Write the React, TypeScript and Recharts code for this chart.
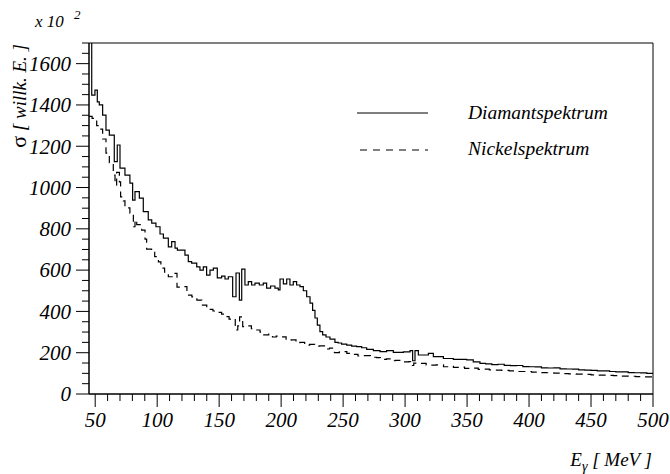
import React from 'react';
import { LineChart, Line, XAxis, YAxis, ReferenceArea } from 'recharts';

const X_MIN = 45;
const X_MAX = 500;
const Y_MAX = 1700;

// Diamantspektrum: lower bin edges (MeV) and contents (x 10^2)
const diamantEdges = [
  45, 47.2, 49.8, 51.7, 53.3, 56, 58.7, 61.4, 65.4, 67.8, 70, 74, 78, 80.2, 82.1, 85.6, 88.8, 92.8, 95.6, 99,
  102.3, 105, 109, 111.7, 114.4, 116.3, 122.4, 125.1, 127.8, 131.9, 134.5, 137.2, 139.9, 142.6, 145.3, 148.5, 152, 154.7, 157.4, 160.9,
  163.6, 166.3, 168.2, 170.8, 173.5, 176.2, 178.9, 182.4, 185.6, 188.3, 191.5, 195, 197.7, 199.1, 201.8, 204.5, 207.1, 209.8, 212.5, 215.2,
  217.9, 220.6, 223.3, 225.4, 227.3, 229.2, 231.3, 233.5, 236.2, 239.4, 243.4, 246, 248.8, 252.9, 256.9, 260.9, 265, 269, 274.4, 279.8,
  285.1, 290.5, 298.6, 304, 306.1, 308, 310.7, 318.8, 322.8, 330.9, 338.9, 349.7, 355, 360.4, 365, 370, 375, 380, 385, 390,
  395, 400, 405, 410, 415, 420, 425, 430, 435, 440, 445, 450, 455, 460, 465, 470, 475, 480, 485, 490, 495,
];
const diamantValues = [
  1760, 1448, 1472, 1415, 1400, 1351, 1278, 1254, 1125, 1206, 1094, 1060, 1021, 939, 980, 949, 883, 843, 828, 810,
  775, 755, 713, 738, 707, 697, 673, 641, 634, 616, 600, 616, 576, 600, 610, 562, 571, 557, 568, 471,
  586, 455, 605, 528, 544, 528, 537, 528, 537, 513, 523, 513, 504, 557, 533, 557, 528, 544, 528, 520,
  500, 471, 440, 405, 368, 334, 302, 286, 276, 266, 250, 247, 242, 237, 232, 229, 224, 216, 210, 205,
  210, 202, 204, 210, 161, 210, 189, 197, 181, 172, 168, 165, 156, 148, 146, 142, 144, 139, 137, 138,
  133, 132, 131, 127, 126, 127, 122, 121, 120, 117, 116, 114, 112, 112, 109, 107, 107, 104, 103, 102, 100,
];

// Nickelspektrum: lower bin edges (MeV) and contents (x 10^2)
const nickelEdges = [
  45, 47.5, 51.2, 53.3, 56, 58.7, 61.4, 64.6, 66, 67.3, 69.5, 70.5, 72.7, 74, 78, 80.8, 82.1, 83.5, 87.5, 90.2,
  91.5, 95.5, 98, 101, 103, 106, 109, 113, 116, 120, 124, 128, 132, 136, 140, 145, 149, 152, 155, 158,
  160, 163, 165, 166.5, 169, 172, 176, 179, 183, 186, 190, 193, 196, 199, 204, 208, 212, 215, 219, 223,
  227, 231, 235, 239, 243, 247, 253, 257, 262, 266, 272, 277, 280, 285, 289, 292, 297, 303, 304.5, 307,
  310, 317, 325, 331, 336, 339, 344, 348, 355, 359, 364, 368, 372, 378, 384, 390, 396, 402, 408, 414,
  420, 426, 432, 438, 444, 450, 456, 462, 468, 474, 480, 486, 492,
];
const nickelValues = [
  1345, 1335, 1300, 1283, 1235, 1167, 1120, 1060, 1012, 1073, 1027, 955, 935, 901, 876, 810, 843, 820, 794, 750,
  702, 689, 665, 640, 610, 590, 568, 584, 518, 520, 479, 470, 455, 430, 410, 402, 395, 387, 375, 363,
  365, 310, 330, 374, 326, 330, 316, 310, 300, 286, 290, 276, 280, 277, 261, 262, 248, 250, 237, 240,
  232, 233, 218, 222, 200, 205, 197, 192, 184, 186, 178, 176, 168, 170, 161, 163, 156, 157, 138, 150,
  148, 140, 141, 132, 134, 129, 130, 124, 125, 119, 120, 117, 116, 114, 112, 109, 109, 106, 104, 103,
  101, 99, 97, 96, 95, 93, 91, 90, 89, 87, 86, 84, 83,
];

const xMajorTicks = [50, 100, 150, 200, 250, 300, 350, 400, 450, 500];
const yMajorTicks = [0, 200, 400, 600, 800, 1000, 1200, 1400, 1600];
const xMinorStep = 10;
const yMinorStep = 50;

const xTicks: number[] = [];
for (let v = 50; v <= X_MAX; v += xMinorStep) xTicks.push(v);
const yTicks: number[] = [];
for (let v = 0; v <= Y_MAX; v += yMinorStep) yTicks.push(v);

const seriesNames = ['Diamantspektrum', 'Nickelspektrum'];

function toSteps(edges: number[], values: number[]) {
  const pts = edges.map((e, i) => ({ e, v: values[i] }));
  pts.push({ e: X_MAX, v: values[values.length - 1] });
  return pts;
}

const diamantData = toSteps(diamantEdges, diamantValues);
const nickelData = toSteps(nickelEdges, nickelValues);

const FONT = '"Liberation Serif", "Times New Roman", serif';

const XTick = (props: any) => {
  const { x, y, payload } = props;
  const v = payload.value;
  const major = xMajorTicks.includes(v);
  return (
    <g>
      <line x1={x} x2={x} y1={y} y2={y + (major ? 13 : 7)} stroke="#000" strokeWidth={1} />
      {major && (
        <text x={x} y={y + 33} textAnchor="middle" fontFamily={FONT} fontStyle="italic" fontSize={21} fill="#000">
          {v}
        </text>
      )}
    </g>
  );
};

const YTick = (props: any) => {
  const { x, y, payload } = props;
  const v = payload.value;
  const major = yMajorTicks.includes(v);
  return (
    <g>
      <line x1={x - (major ? 13 : 7)} x2={x} y1={y} y2={y} stroke="#000" strokeWidth={1} />
      {major && (
        <text x={x - 18} y={y} dy="0.35em" textAnchor="end" fontFamily={FONT} fontStyle="italic" fontSize={21} fill="#000">
          {v}
        </text>
      )}
    </g>
  );
};

export default function App() {
  return (
    <div style={{ position: 'absolute', left: 0, top: 0, width: 670, height: 474, background: '#fff' }}>
      <LineChart width={670} height={474} margin={{ top: 43, right: 17, bottom: 0, left: 0 }}>
        <XAxis
          type="number"
          dataKey="e"
          domain={[X_MIN, X_MAX]}
          allowDataOverflow
          ticks={xTicks}
          interval={0}
          height={80}
          tickSize={0}
          tickMargin={0}
          tickLine={false}
          axisLine={{ stroke: '#000', strokeWidth: 1 }}
          tick={<XTick />}
        />
        <YAxis
          type="number"
          domain={[0, Y_MAX]}
          allowDataOverflow
          ticks={yTicks}
          interval={0}
          width={89}
          tickSize={0}
          tickMargin={0}
          tickLine={false}
          axisLine={{ stroke: '#000', strokeWidth: 1 }}
          tick={<YTick />}
        />
        <ReferenceArea x1={X_MIN} x2={X_MAX} y1={0} y2={Y_MAX} fill="none" fillOpacity={0} stroke="#000" strokeWidth={1} />
        <Line
          data={diamantData}
          dataKey="v"
          name={seriesNames[0]}
          type="stepAfter"
          stroke="#000"
          strokeWidth={1.2}
          dot={false}
          activeDot={false}
          isAnimationActive={false}
        />
        <Line
          data={nickelData}
          dataKey="v"
          name={seriesNames[1]}
          type="stepAfter"
          stroke="#000"
          strokeWidth={1.2}
          strokeDasharray="7 5"
          dot={false}
          activeDot={false}
          isAnimationActive={false}
        />
      </LineChart>
      <svg width={670} height={474} style={{ position: 'absolute', left: 0, top: 0, pointerEvents: 'none' }}>
        <text x={35} y={27} fontFamily={FONT} fontStyle="italic" fontSize={17} fill="#000">x 10</text>
        <text x={74} y={19} fontFamily={FONT} fontStyle="italic" fontSize={13} fill="#000">2</text>
        <text transform="translate(26,44) rotate(-90)" textAnchor="end" fontFamily={FONT} fontSize={19} fill="#000">
          <tspan fontSize={22}>σ</tspan>
          <tspan fontStyle="italic"> [ willk. E. ]</tspan>
        </text>
        <text x={652} y={466} textAnchor="end" fontFamily={FONT} fontStyle="italic" fontSize={19} fill="#000">
          E<tspan fontSize={14} dy={5}>γ</tspan><tspan dy={-5}> [ MeV ]</tspan>
        </text>
        <line x1={357} x2={428} y1={113} y2={113} stroke="#000" strokeWidth={1.2} />
        <text x={468} y={119} fontFamily={FONT} fontStyle="italic" fontSize={19.5} fill="#000">{seriesNames[0]}</text>
        <line x1={360} x2={428} y1={150} y2={150} stroke="#000" strokeWidth={1.2} strokeDasharray="7 6" />
        <text x={468} y={155} fontFamily={FONT} fontStyle="italic" fontSize={19.5} fill="#000">{seriesNames[1]}</text>
      </svg>
    </div>
  );
}
